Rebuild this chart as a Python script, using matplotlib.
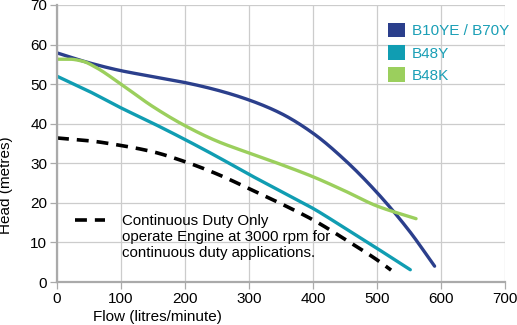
import numpy as np
import matplotlib
matplotlib.use('Agg')
from matplotlib import pyplot as plt
from matplotlib.patches import Patch

plt.rcParams['font.family'] = ['Liberation Sans', 'DejaVu Sans']

# pump curves, flow in litres/minute, head in metres
flow_b10 = [0, 50, 100, 150, 200, 250, 300, 350, 400, 450, 500, 550, 590]
head_b10 = [57.9, 55.4, 53.4, 51.9, 50.4, 48.5, 46.0, 42.6, 37.6, 30.8, 22.6, 13.0, 4.0]

flow_b48y = [0, 50, 100, 150, 200, 250, 300, 350, 400, 450, 500, 552]
head_b48y = [52.0, 48.2, 44.0, 40.1, 36.0, 31.7, 27.2, 22.9, 18.6, 13.6, 8.5, 3.1]

flow_b48k = [0, 20, 40, 60, 100, 150, 200, 250, 300, 350, 400, 450, 500, 561]
head_b48k = [56.3, 56.3, 55.8, 54.3, 50.0, 44.3, 39.5, 35.6, 32.6, 29.7, 26.6, 23.0, 19.2, 16.0]

flow_cont = [0, 50, 100, 150, 200, 250, 300, 350, 400, 450, 500, 522]
head_cont = [36.4, 35.7, 34.5, 32.9, 30.4, 27.3, 23.6, 19.8, 15.7, 10.8, 5.6, 3.0]

labels = ['B10YE / B70Y', 'B48Y', 'B48K']
colors = ['#2b3f8c', '#109db2', '#9bcf5d']
note = 'Continuous Duty Only\noperate Engine at 3000 rpm for\ncontinuous duty applications.'


def smooth(x, y, n=300):
    # monotone cubic (pchip) through the read points, only for drawing
    x = np.asarray(x, float)
    y = np.asarray(y, float)
    h = np.diff(x)
    d = np.diff(y) / h
    m = np.zeros_like(y)
    for i in range(1, len(x) - 1):
        if d[i - 1] * d[i] > 0:
            w1 = 2 * h[i] + h[i - 1]
            w2 = h[i] + 2 * h[i - 1]
            m[i] = (w1 + w2) / (w1 / d[i - 1] + w2 / d[i])
    m[0] = d[0]
    m[-1] = d[-1]
    xs = np.linspace(x[0], x[-1], n)
    k = np.clip(np.searchsorted(x, xs) - 1, 0, len(x) - 2)
    t = (xs - x[k]) / h[k]
    h00 = 2 * t**3 - 3 * t**2 + 1
    h10 = t**3 - 2 * t**2 + t
    h01 = -2 * t**3 + 3 * t**2
    h11 = t**3 - t**2
    ys = h00 * y[k] + h10 * h[k] * m[k] + h01 * y[k + 1] + h11 * h[k] * m[k + 1]
    return xs, ys


fig = plt.figure(figsize=(5.17, 3.25), dpi=100)
ax = fig.add_axes([57/517, 43/325, 448/517, 277/325])

ax.plot(*smooth(flow_b10, head_b10), color=colors[0], lw=2.4, solid_capstyle='round')
ax.plot(*smooth(flow_b48k, head_b48k), color=colors[2], lw=2.4, solid_capstyle='round')
ax.plot(*smooth(flow_b48y, head_b48y), color=colors[1], lw=2.4, solid_capstyle='round')
ax.plot(*smooth(flow_cont, head_cont), color='black', lw=2.6, dashes=(3.3, 2.2))

ax.set_xlim(0, 700)
ax.set_ylim(0, 70)
ax.set_xticks(range(0, 701, 100))
ax.set_yticks(range(0, 71, 10))
ax.grid(True, color='#cccccc', lw=0.9)
ax.set_axisbelow(True)
for s in ['top', 'right']:
    ax.spines[s].set_visible(False)
for s in ['left', 'bottom']:
    ax.spines[s].set_color('#aaaaaa')
    ax.spines[s].set_linewidth(1.6)
ax.tick_params(colors='#aaaaaa', labelcolor='black', labelsize=11, length=5, width=0.9, pad=2)

ax.set_xlabel('Flow (litres/minute)', fontsize=11)
ax.xaxis.set_label_coords(0.225, -0.1)
ax.set_ylabel('Head (metres)', fontsize=11)
ax.yaxis.set_label_coords(-0.098, 0.35)

handles = [Patch(facecolor=c, edgecolor='none') for c in colors]
ax.legend(handles, labels, loc='upper left', bbox_to_anchor=(0.715, 0.975),
          frameon=False, handlelength=1.1, handleheight=1.1, handletextpad=0.45,
          labelspacing=0.45, fontsize=11, labelcolor='#1a9fb6', borderpad=0.2)

# key for continuous duty line
ax.plot([0.04, 0.107], [0.224, 0.224], transform=ax.transAxes, color='black',
        lw=2.6, dashes=(3.3, 2.2))
ax.text(0.145, 0.162, note, transform=ax.transAxes, va='center', ha='left',
        fontsize=10.8, linespacing=1.15)

fig.savefig('out.png', dpi=100)
